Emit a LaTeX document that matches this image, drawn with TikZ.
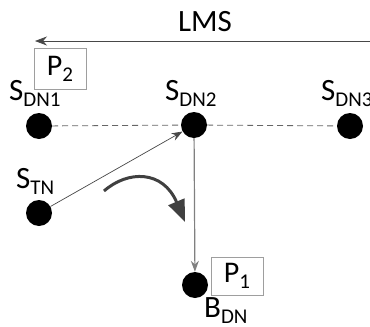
\documentclass[tikz,border=0pt]{standalone}
\usepackage{fontspec}
\setmainfont{Carlito}
\usetikzlibrary{arrows.meta}
% lowered subscript in text
\newcommand{\lsub}[1]{\raisebox{-6pt}{\fontsize{21}{21}\selectfont #1}}
\tikzset{
  dot/.style={circle, fill=black, inner sep=0pt, minimum size=26pt},
  lbl/.style={inner sep=0pt, font=\fontsize{31}{34}\selectfont},
  pbox/.style={draw=black!38, line width=0.8pt, fill=white, inner sep=0pt,
    font=\fontsize{30}{34}\selectfont},
  link/.style={draw=black!72, line width=0.7pt},
}
\begin{document}
\begin{tikzpicture}[x=1pt,y=-1pt]
\useasboundingbox (0,0) rectangle (370,327);

% top: LMS direction
\node[lbl, anchor=base] (lms) at (205,31) {LMS};
\coordinate (lmsR) at (372,41);
\coordinate (lmsL) at (35,41);
\draw[link, -{Stealth[length=12pt,width=9pt]}] (lmsR) -- (lmsL);

% sensor nodes
\node[dot] (sdn1) at (39,126) {};
\node[dot] (sdn2) at (194,125) {};
\node[dot] (sdn3) at (350,126) {};
\node[dot] (stn)  at (39,213) {};
\node[dot] (bdn)  at (195,285) {};

% node labels
\node[lbl, anchor=base west] (l1) at (9,100) {S\lsub{DN1}};
\node[lbl, anchor=base west] (l2) at (165,100) {S\lsub{DN2}};
\node[lbl, anchor=base west] (l3) at (321,100) {S\lsub{DN3}};
\node[lbl, anchor=base west] (l4) at (16,188) {S\lsub{TN}};
\node[lbl, anchor=base west] (l5) at (204,317) {B\lsub{DN}};

% packets
\node[pbox, minimum width=52pt, minimum height=41pt] (p2) at (60,68.5) {P\lsub{2}};
\node[pbox, minimum width=52pt, minimum height=38pt] (p1) at (237,276) {P\lsub{1}};

% links
\draw[draw=black!60, line width=0.8pt, dash pattern=on 6pt off 4pt] (sdn1) -- (sdn2);
\draw[draw=black!60, line width=0.8pt, dash pattern=on 6pt off 4pt] (sdn2) -- (sdn3);
\draw[link, -{Stealth[length=11pt,width=8pt]}] (stn) -- (sdn2);
\draw[draw=black!50, line width=1.2pt, -{Stealth[length=11pt,width=8pt]}] (sdn2) -- (bdn);

% hand-over arrow
\coordinate (cs) at (104,191);
\coordinate (ce) at (185,222);
\draw[draw=black!75, line width=3pt, -{Triangle[length=22pt,width=17pt]}]
  (cs) .. controls (128,170) and (163,170) .. (ce);
\end{tikzpicture}
\end{document}
